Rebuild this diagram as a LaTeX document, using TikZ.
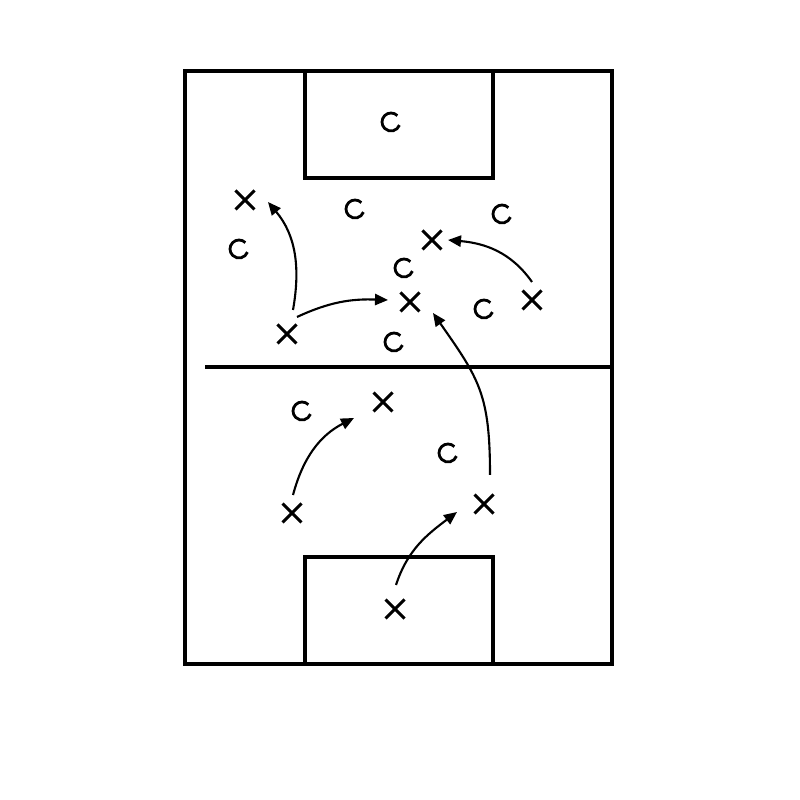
\documentclass[tikz,border=0pt]{standalone}
\usetikzlibrary{shapes.misc,arrows.meta}
\begin{document}
\begin{tikzpicture}[x=0.01cm,y=0.01cm,
 pitch/.style={line width=1.15pt},
 xmark/.style={cross out,draw,line width=0.85pt,minimum size=0.16cm,inner sep=0pt},
 omark/.style={circle,minimum size=0.18cm,inner sep=0pt},
 oline/.style={line width=0.8pt},
 arr/.style={line width=0.6pt,-{Triangle[length=3.7pt,width=3.2pt]}}]
\useasboundingbox (0,0) rectangle (800,800);
\fill[white] (0,0) rectangle (800,800);
% pitch
\draw[pitch] (185,136) rectangle (612,729);
\draw[pitch] (305,729) -- (305,622) -- (493,622) -- (493,729);
\draw[pitch] (305,136) -- (305,243) -- (493,243) -- (493,136);
\draw[pitch] (205,433) -- (612,433);
% circles
\node[omark] (c1) at (391,678) {};
\node[omark] (c2) at (355,591) {};
\node[omark] (c3) at (502,586) {};
\node[omark] (c4) at (239,551) {};
\node[omark] (c5) at (404,532) {};
\node[omark] (c6) at (484,491) {};
\node[omark] (c7) at (394,458) {};
\node[omark] (c8) at (302,389) {};
\node[omark] (c9) at (448,347) {};
\foreach \n in {c1,c2,c3,c4,c5,c6,c7,c8,c9}
  \draw[oline] ([shift={(45:9)}]\n.center) arc[start angle=45,end angle=340,radius=9];
% crosses
\node[xmark] (x1) at (245,600) {};
\node[xmark] (x2) at (432,560) {};
\node[xmark] (x3) at (410,498) {};
\node[xmark] (x4) at (532,500) {};
\node[xmark] (x5) at (287,466) {};
\node[xmark] (x6) at (383,398) {};
\node[xmark] (x7) at (292,287) {};
\node[xmark] (x8) at (484,296) {};
\node[xmark] (x9) at (395,191) {};
% arrows
\draw[arr] ([shift={(6,24)}]x5.center) to[out=80,in=-50] ([shift={(23,-2)}]x1.center);
\draw[arr] ([shift={(10,17)}]x5.center) to[out=25,in=178] ([shift={(-22,2)}]x3.center);
\draw[arr] ([shift={(0,18)}]x4.center) to[out=125,in=-5] ([shift={(16,0)}]x2.center);
\draw[arr] ([shift={(6,29)}]x8.center) to[out=90,in=-55,looseness=1.2] ([shift={(23,-11)}]x3.center);
\draw[arr] ([shift={(1,18)}]x7.center) to[out=75,in=-153] ([shift={(-29,-16)}]x6.center);
\draw[arr] ([shift={(1,24)}]x9.center) to[out=72,in=-143] ([shift={(-27,-8)}]x8.center);
\end{tikzpicture}
\end{document}
